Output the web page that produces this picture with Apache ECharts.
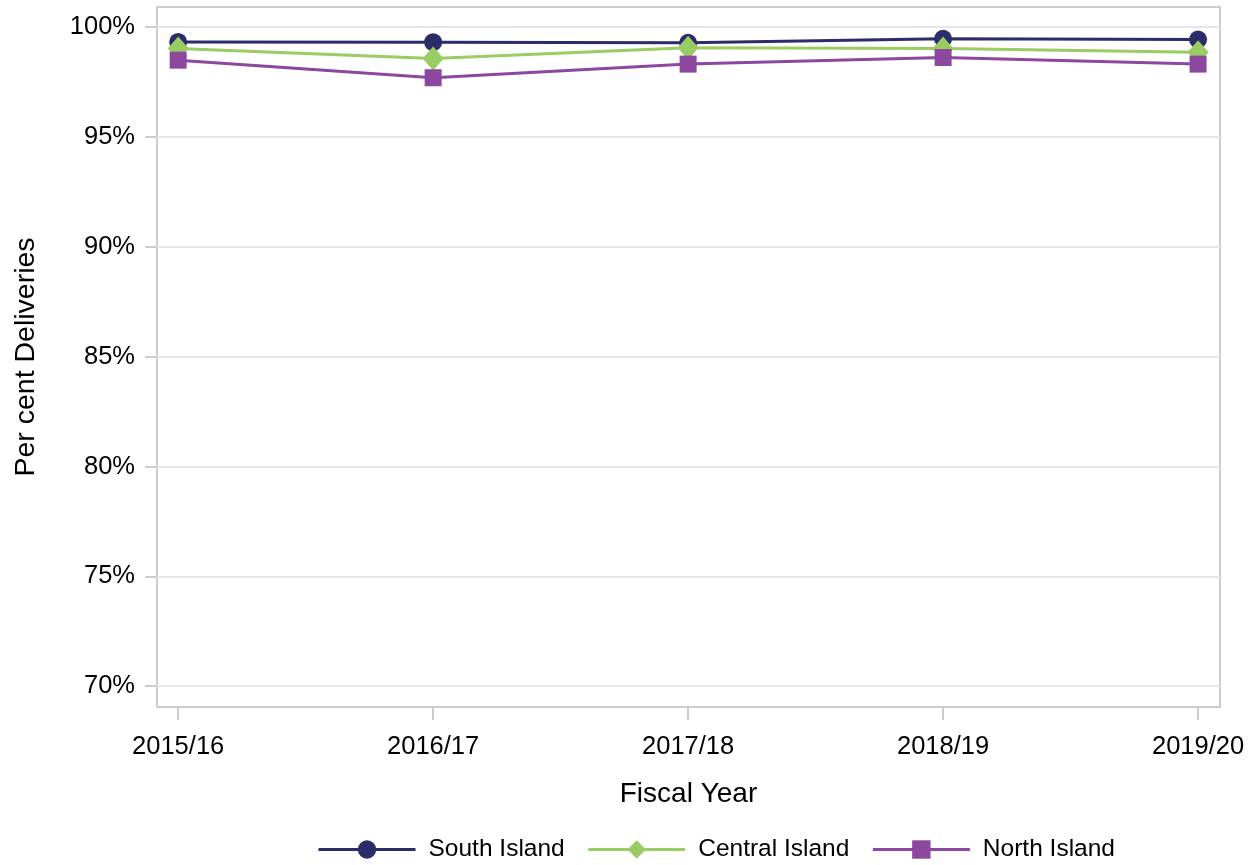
<!DOCTYPE html>
<html>
<head>
<meta charset="utf-8">
<script src="https://cdn.jsdelivr.net/npm/echarts@6/dist/echarts.min.js"></script>
<style>html,body{margin:0;padding:0;background:#fff}#c{width:1256px;height:865px}</style>
</head>
<body>
<div id="c"></div>
<script>
var years = ['2015/16', '2016/17', '2017/18', '2018/19', '2019/20'];
var southIsland = [99.33, 99.32, 99.29, 99.47, 99.44];
var centralIsland = [99.03, 98.57, 99.06, 99.03, 98.86];
var northIsland = [98.50, 97.70, 98.32, 98.62, 98.32];
var yTicks = [70, 75, 80, 85, 90, 95, 100];
var xTicks = [0, 1, 2, 3, 4];

var font = 'Liberation Sans, Arial, sans-serif';
function pts(arr) { return arr.map(function (v, i) { return [i, v]; }); }

var chart = echarts.init(document.getElementById('c'));
chart.setOption({
  animation: false,
  textStyle: { fontFamily: font },
  grid: { left: 157, right: 36, top: 7, bottom: 158, show: true, borderColor: '#cccccc', borderWidth: 2, containLabel: false },
  legend: {
    top: 832, left: 312, itemWidth: 97, itemHeight: 23, itemGap: 22,
    textStyle: { fontFamily: font, fontSize: 24.5, color: '#000', padding: [0, 0, 0, 8] },
    lineStyle: { width: 3 },
    data: ['South Island', 'Central Island', 'North Island']
  },
  xAxis: {
    type: 'value', min: -0.083, max: 4.086,
    name: 'Fiscal Year', nameLocation: 'middle', nameGap: 73,
    nameTextStyle: { fontFamily: font, fontSize: 28, color: '#000' },
    axisLine: { show: false, onZero: false },
    axisTick: { show: true, customValues: xTicks, length: 13, lineStyle: { color: '#cccccc', width: 2 } },
    axisLabel: { customValues: xTicks, margin: 27, fontSize: 25.5, color: '#000', fontFamily: font, formatter: function (v) { return years[Math.round(v)]; } },
    splitLine: { show: false }
  },
  yAxis: {
    type: 'value', min: 69.05, max: 100.92,
    name: 'Per cent Deliveries', nameLocation: 'middle', nameGap: 116,
    nameTextStyle: { fontFamily: font, fontSize: 28.5, color: '#000' },
    axisLine: { show: false, onZero: false },
    axisTick: { show: true, customValues: yTicks, length: 12, lineStyle: { color: '#cccccc', width: 2 } },
    axisLabel: { customValues: yTicks, margin: 22, fontSize: 25.5, color: '#000', fontFamily: font, formatter: function (v) { return Math.round(v) + '%'; } },
    splitLine: { show: true, lineStyle: { color: '#e6e6e6', width: 2 } }
  },
  series: [
    { name: 'South Island', type: 'line', data: pts(southIsland), symbol: 'circle', symbolSize: 18,
      itemStyle: { color: '#2b2c6a' }, lineStyle: { color: '#2b2c6a', width: 3 }, z: 2 },
    { name: 'Central Island', type: 'line', data: pts(centralIsland), symbol: 'diamond', symbolSize: [21, 24],
      itemStyle: { color: '#99cc62' }, lineStyle: { color: '#99cc62', width: 3 }, z: 3 },
    { name: 'North Island', type: 'line', data: pts(northIsland), symbol: 'rect', symbolSize: 17,
      itemStyle: { color: '#8c479e' }, lineStyle: { color: '#8c479e', width: 3 }, z: 4 }
  ]
});
</script>
</body>
</html>
